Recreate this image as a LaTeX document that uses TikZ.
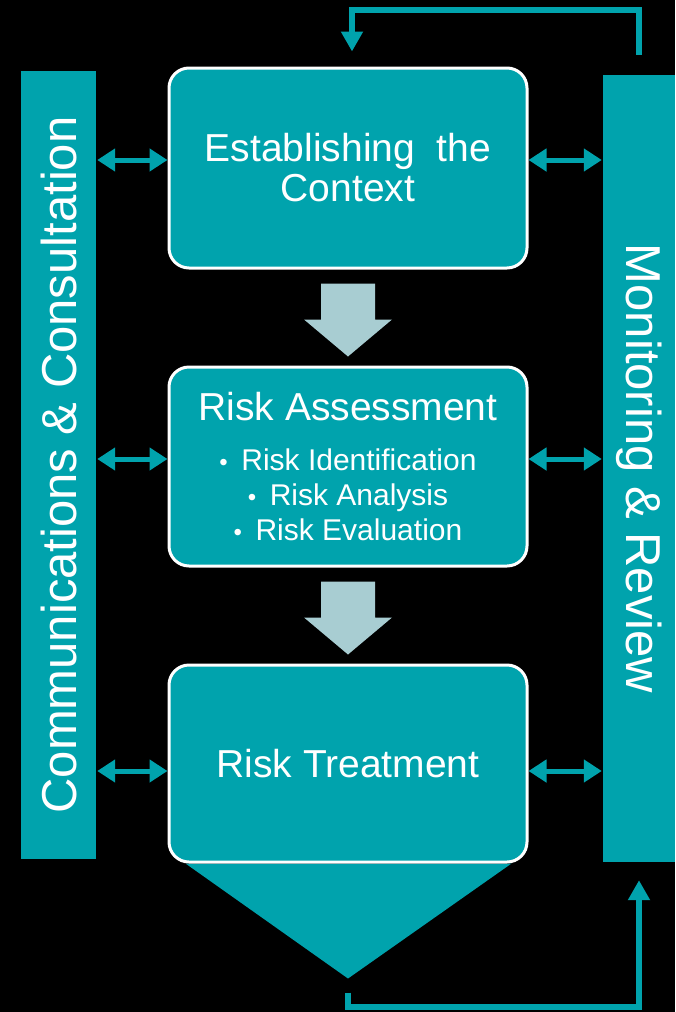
\documentclass[tikz,border=0pt]{standalone}
\usepackage{fontspec}
\setmainfont{Liberation Sans}
\usepackage{xcolor}
\usetikzlibrary{arrows.meta, backgrounds, calc}

\definecolor{riskteal}{RGB}{0,163,173}
\definecolor{riskpale}{RGB}{168,205,210}

\newcommand{\riskitem}{{\fontsize{24}{24}\selectfont\textbullet}\hspace{0.45em}}

\begin{document}
\begin{tikzpicture}[
    x=1pt, y=-1pt,
    every node/.style={text=white, inner sep=0pt},
    stage/.style={draw=white, line width=3pt, fill=riskteal, rounded corners=20pt, minimum width=358pt},
    title/.style={font=\fontsize{39}{40}\selectfont},
    sidebar/.style={fill=riskteal, font=\fontsize{49}{52}\selectfont},
    link/.style={draw=riskteal, line width=5pt, >={Triangle[length=18pt,width=22pt]}, <->},
    feedback/.style={draw=riskteal, line width=6pt, >={Triangle[length=20pt,width=21pt]}, ->},
    bigdown/.pic={\fill[riskpale] (-27,0) -- (27,0) -- (27,36) -- (44,36) -- (0,73) -- (-44,36) -- (-27,36) -- cycle;},
]
\useasboundingbox (0,0) rectangle (675,1012);

% Barras laterais
\node[sidebar, rotate=90, minimum width=788pt, minimum height=75pt] (comm) at (58.5,465) {Communications \& Consultation};
\node[sidebar, rotate=-90, minimum width=787pt, minimum height=72pt] (mon) at (639,468.5) {Monitoring \& Review};

% Etapas
\node[stage, title, minimum height=200pt, align=center] (ctx) at (348,168) {Establishing\ \ the\\Context};
\node[stage, minimum height=199pt] (assess) at (348,466.5) {};
\node[title] (assesshead) at (348,407) {Risk Assessment};
\node[align=center, font=\fontsize{30}{35}\selectfont] (assesssteps) at (348,495)
    {\riskitem Risk Identification\\ \riskitem Risk Analysis\\ \riskitem Risk Evaluation};
\node[stage, title, minimum height=197pt] (treat) at (348,763.5) {Risk Treatment};

% Setas entre etapas
\pic at ($(ctx.south)+(0,14)$) {bigdown};
\pic at ($(assess.south)+(0,14)$) {bigdown};

% Setas duplas
\coordinate (ctxw) at ([yshift=8pt]ctx.west);
\coordinate (ctxe) at ([yshift=8pt]ctx.east);
\coordinate (assessw) at ([yshift=7.5pt]assess.west);
\coordinate (assesse) at ([yshift=7.5pt]assess.east);
\coordinate (treatw) at ([yshift=-7.5pt]treat.west);
\coordinate (treate) at ([yshift=-7.5pt]treat.east);
\foreach \s in {ctx, assess, treat} {
    \draw[link, shorten <=1pt] (comm.south |- \s w) -- (\s w);
    \draw[link, shorten >=1pt] (\s e) -- (mon.south |- \s e);
}

% Realimentacao
\coordinate (chev) at ($(treat.south)+(0,115)$);
\draw[feedback] ([yshift=20pt]mon.west) -- ++(0,-45) -| ([xshift=4pt,yshift=15pt]ctx.north);
\draw[feedback] ([yshift=-14pt]chev) -- ++(0,14) -| ([yshift=-18pt]mon.east);

% Fundo e ponta
\begin{scope}[on background layer]
    \fill[black] (0,0) rectangle (675,1012);
    \fill[riskteal] ($(treat.south west)+(18,0)$) -- ($(treat.south east)+(-17,0)$) -- (chev) -- cycle;
\end{scope}

\end{tikzpicture}
\end{document}
